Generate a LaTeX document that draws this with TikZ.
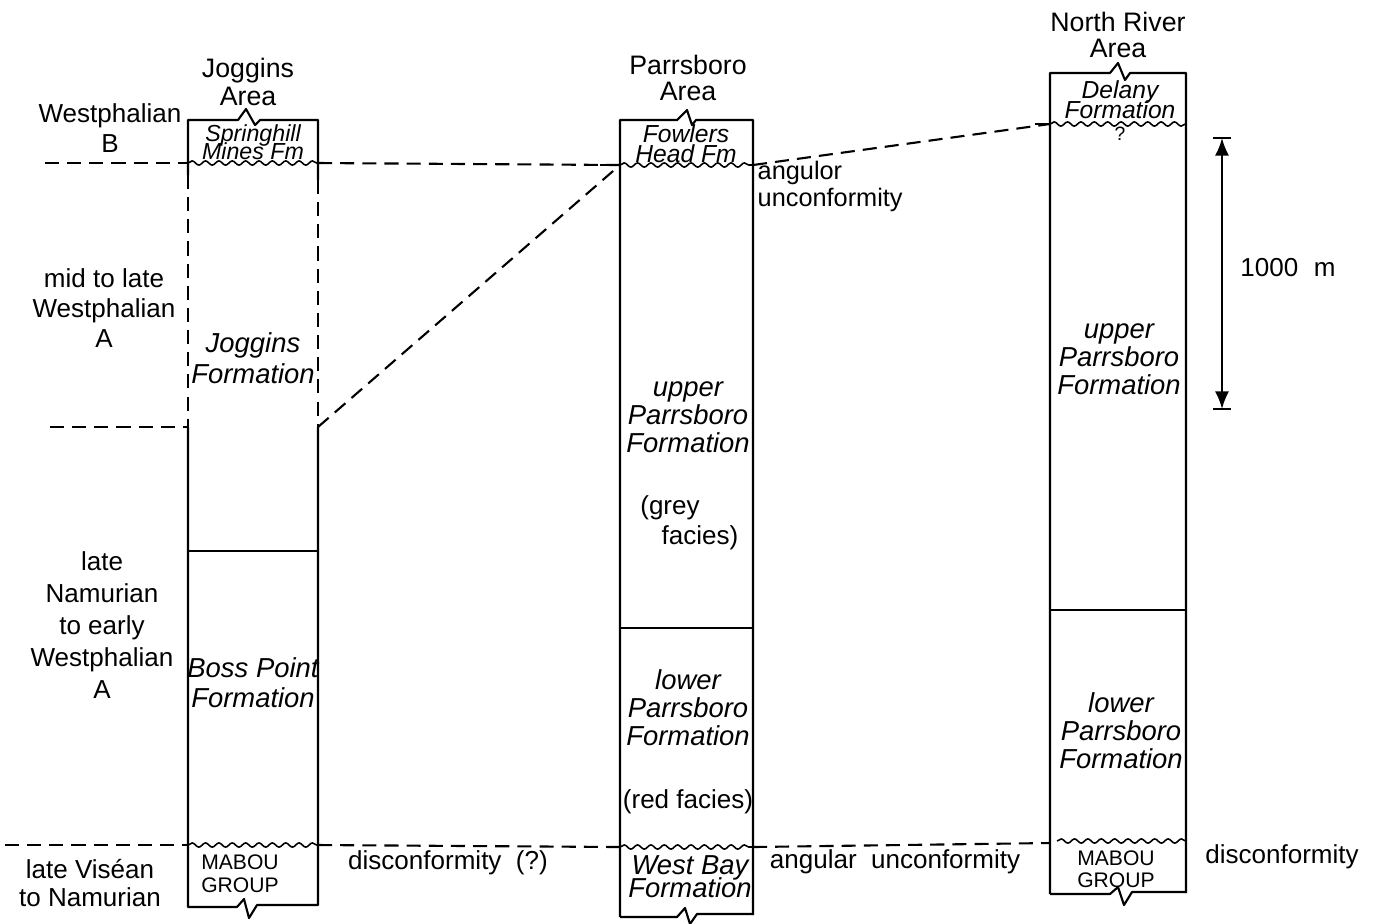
\documentclass[tikz,border=0pt]{standalone}
\usepackage{fontspec}
\setmainfont{Liberation Sans}
\usetikzlibrary{decorations.pathmorphing,arrows.meta}

\begin{document}
\begin{tikzpicture}[x=0.01cm,y=-0.01cm,
    col/.style={line width=0.6pt, line join=round},
    bnd/.style={line width=0.6pt, dash pattern=on 4pt off 2.3pt},
    wavy/.style={line width=0.45pt, decorate, decoration={snake, amplitude=0.6pt, segment length=3.8pt}},
    txt/.style={font=\fontsize{7.4}{8.6}\selectfont, align=center, inner sep=0pt},
    fm/.style={font=\fontsize{7.8}{8}\selectfont\itshape, align=center, inner sep=0pt},
    fmtop/.style={font=\fontsize{7}{7}\selectfont\itshape, align=center, inner sep=0pt},
    grp/.style={font=\fontsize{6}{6.5}\selectfont, align=center, inner sep=0pt}]
\useasboundingbox (0,0) rectangle (1376,923);

    % boundary points
    \coordinate (jB) at (188,163);
    \coordinate (jBr) at (318,163);
    \coordinate (jA) at (188,427);
    \coordinate (jAr) at (318,427);
    \coordinate (jM) at (188,845);
    \coordinate (jMr) at (318,845);
    \coordinate (pB) at (620,165);
    \coordinate (pBr) at (753,165);
    \coordinate (pM) at (620,847);
    \coordinate (pMr) at (753,847);
    \coordinate (nB) at (1050,124);
    \coordinate (nM) at (1050,843);

    % Joggins column
    \draw[col] (188,175) -- (188,120) -- (238,120) -- ++(8,-11) -- ++(9,16) -- ++(5,-5) -- (318,120) -- (318,180);
    \draw[bnd] (188,175) -- (jA);
    \draw[bnd] (318,180) -- (jAr);
    \draw[col] (jA) -- (188,907) -- (237,907) -- ++(7,-8) -- ++(5,19) -- ++(8,-13) -- (318,905) -- (jAr);
    \draw[col] (188,551) -- (318,551);
    \draw[wavy] (jB) -- (jBr);
    \draw[wavy] (jM) -- (jMr);

    % Parrsboro column
    \draw[col] (620,917) -- (620,120) -- (677,120) -- ++(10,-10) -- ++(5,15) -- ++(4,-5) -- (753,120) -- (753,915);
    \draw[col] (620,917) -- (677,917) -- ++(8,-9) -- ++(5,16) -- ++(7,-10) -- (753,914);
    \draw[col] (620,628) -- (753,628);
    \draw[wavy] (pB) -- (pBr);
    \draw[wavy] (pM) -- (pMr);

    % North River column
    \draw[col] (1050,894) -- (1050,73) -- (1110,73) -- ++(8,-10) -- ++(7,17) -- ++(5,-7) -- (1186,73) -- (1186,893);
    \draw[col] (1050,894) -- (1110,894) -- ++(8,-7) -- ++(6,18) -- ++(8,-13) -- (1186,892);
    \draw[col] (1050,610) -- (1186,610);
    \draw[wavy] (nB) -- (1186,124);
    \draw[wavy] (1057,841) -- (1186,841);

    % correlation lines
    \draw[bnd] (45,163) -- (jB);
    \draw[bnd] (jBr) -- (pB);
    \draw[bnd] (50,427) -- (jA);
    \draw[bnd] (jAr) -- (pB);
    \draw[bnd] (pBr) -- (nB);
    \draw[bnd] (5,845) -- (jM);
    \draw[bnd] (jMr) -- (pM);
    \draw[bnd] (pMr) -- (nM);
    \draw[col] (600,165) -- (pB);
    \draw[col] (1035,124) -- (nB);

    % scale bar
    \coordinate (sTop) at (1222,138);
    \coordinate (sBot) at (1222,409);
    \draw[col, {Latex[length=5pt,width=4pt]}-{Latex[length=5pt,width=4pt]}] (sTop) -- (sBot);
    \draw[col] (1213,138) -- (1231,138);
    \draw[col] (1213,409) -- (1231,409);
    \node[txt] (scale) at (1288,268) {1000\hspace{0.6em}m};

    % titles
    \node[txt, font=\fontsize{7.6}{8}\selectfont] (jogT) at (248,82) {Joggins\\Area};
    \node[txt, font=\fontsize{7.6}{7.4}\selectfont] (parT) at (688,78) {Parrsboro\\Area};
    \node[txt, font=\fontsize{7.6}{7.2}\selectfont] (nrT) at (1118,35) {North River\\Area};

    % ages
    \node[txt] (wB) at (110,128) {Westphalian\\B};
    \node[txt] (wA) at (104,308) {mid to late\\Westphalian\\A};
    \node[txt, font=\fontsize{7.4}{9.1}\selectfont] (nam) at (102,625) {late\\Namurian\\to early\\Westphalian\\A};
    \node[txt, font=\fontsize{7.4}{7.8}\selectfont] (vis) at (90,883) {late Vis\'ean\\to Namurian};

    % Joggins units
    \node[fmtop, font=\fontsize{6.6}{6.6}\selectfont\itshape] (springFm) at (253,142) {Springhill\\[-1.5pt]Mines Fm};
    \node[fm, font=\fontsize{7.8}{9}\selectfont\itshape] (jogFm) at (253,358) {Joggins\\Formation};
    \node[fm, font=\fontsize{7.8}{8.5}\selectfont\itshape] (bossFm) at (253,683) {Boss Point\\Formation};
    \node[grp] (mabouJ) at (240,874) {MABOU\\GROUP};

    % Parrsboro units
    \node[fmtop] (fowlFm) at (686,144) {Fowlers\\[-1.3pt]Head Fm};
    \node[fm] (upParr) at (688,417) {upper\\Parrsboro\\Formation};
    \node[txt] (greyA) at (670,508) {(grey};
    \node[txt] (greyB) at (700,538) {facies)};
    \node[fm] (lowParr) at (688,708) {lower\\Parrsboro\\Formation};
    \node[txt] (red) at (688,802) {(red facies)};
    \node[fm, font=\fontsize{7.8}{7.8}\selectfont\itshape] (westBay) at (690,877) {West Bay\\[-1.3pt]Formation};

    % North River units
    \node[fmtop] (delFm) at (1120,100) {Delany\\[-1.3pt]Formation};
    \node[txt, font=\fontsize{5.5}{6}\selectfont] (query) at (1120,134) {?};
    \node[fm] (nrUp) at (1119,359) {upper\\Parrsboro\\Formation};
    \node[fm] (nrLow) at (1121,731) {lower\\Parrsboro\\Formation};
    \node[grp, font=\fontsize{6}{6.3}\selectfont] (mabouN) at (1116,869) {MABOU\\GROUP};

    % contacts
    \node[txt, align=left, anchor=west, font=\fontsize{7.2}{6.6}\selectfont] (angP) at (757,186) {angulor\\unconformity};
    \node[txt] (disJ) at (448,863) {disconformity\ \ (?)};
    \node[txt] (angN) at (895,862) {angular\ \ unconformity};
    \node[txt] (disN) at (1282,857) {disconformity};

\end{tikzpicture}
\end{document}
